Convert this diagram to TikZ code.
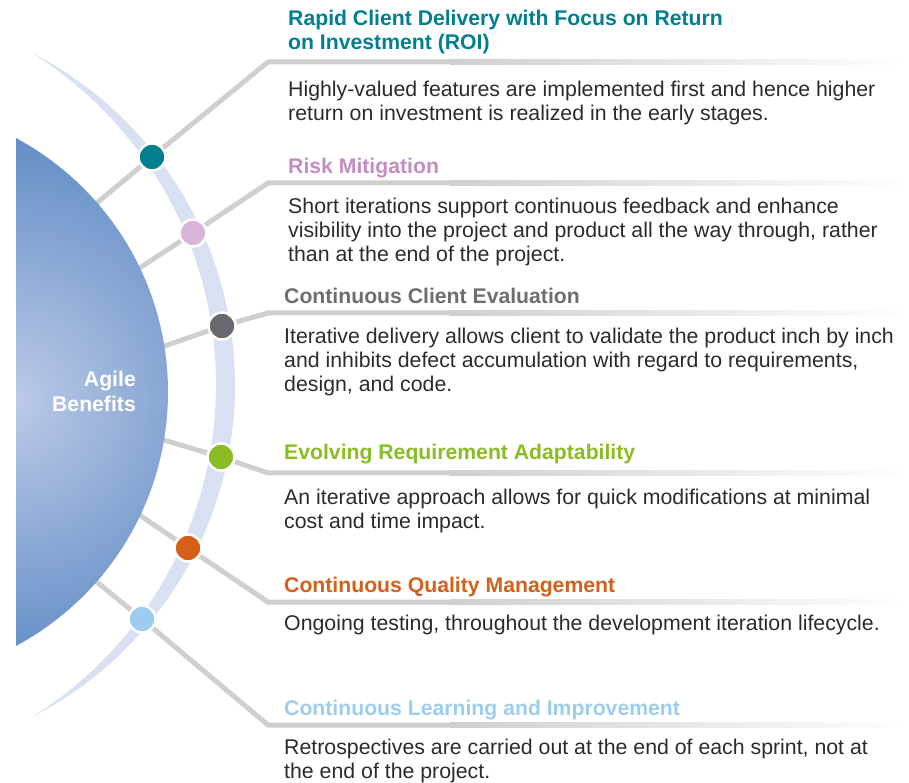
\documentclass[tikz,border=0pt]{standalone}
\usepackage{fontspec}
\setmainfont{Liberation Sans}
\usetikzlibrary{calc}
\definecolor{cteal}{HTML}{00808F}
\definecolor{cpinkh}{HTML}{C48DC1}
\definecolor{cpinkd}{HTML}{D8B6D8}
\definecolor{cgrayh}{HTML}{6D6E72}
\definecolor{cgrayd}{HTML}{68686E}
\definecolor{cgreen}{HTML}{8ABC25}
\definecolor{corange}{HTML}{D4601A}
\definecolor{clblue}{HTML}{9ECCEF}
\definecolor{ringc}{HTML}{D9E0F1}
\definecolor{lineg}{HTML}{CFCFCF}
\definecolor{diskin}{HTML}{BCCAE8}
\definecolor{diskout}{HTML}{5C89C3}
\definecolor{bodyc}{HTML}{2B2B2B}
\begin{document}
\begin{tikzpicture}[x=1pt,y=1pt,
  spoke/.style={draw=lineg, line width=5pt, line join=miter},
  fadebar/.style={left color=lineg, right color=white},
  dotn/.style={circle, minimum size=27pt, inner sep=0pt, draw=white, line width=2.5pt},
  head/.style={anchor=base west, inner sep=0pt, align=left, font=\fontsize{21.2}{24}\selectfont\bfseries},
  body/.style={anchor=base west, inner sep=0pt, align=left, text=bodyc, font=\fontsize{21.3}{24}\selectfont}]
\useasboundingbox (0,0) rectangle (909,782);
% ring band
\begin{scope}
  \clip (32,0) rectangle (909,782);
  \fill[ringc, even odd rule] (-138,397) circle (373) (-175.5,397) circle (391.5);
\end{scope}
% coordinates
\coordinate (s1) at (92,575);  \coordinate (e1) at (268,720); \coordinate (m1) at (450,720); \coordinate (r1) at (909,720);
\coordinate (s2) at (135,511); \coordinate (e2) at (268,599); \coordinate (m2) at (450,599); \coordinate (r2) at (909,599);
\coordinate (s3) at (159,434); \coordinate (e3) at (268,469); \coordinate (m3) at (450,469); \coordinate (r3) at (909,469);
\coordinate (s4) at (157,344); \coordinate (e4) at (268,309); \coordinate (m4) at (450,309); \coordinate (r4) at (909,309);
\coordinate (s5) at (135,270); \coordinate (e5) at (268,180); \coordinate (m5) at (450,180); \coordinate (r5) at (909,180);
\coordinate (s6) at (92,204);  \coordinate (e6) at (268,57);  \coordinate (m6) at (450,57);  \coordinate (r6) at (909,57);
\coordinate (d1) at (152,625);
\coordinate (d2) at (193,549);
\coordinate (d3) at (222,456);
\coordinate (d4) at (221,325);
\coordinate (d5) at (188,234);
\coordinate (d6) at (142,163);
% spokes
\foreach \i in {1,...,6}{
  \draw[spoke] (s\i) -- (d\i) -- (e\i) -- (m\i);
  \shade[fadebar] ($(m\i)+(0,-2.5)$) rectangle ($(r\i)+(0,2.5)$);
}
% disk
\coordinate (disk) at (-120,390);
\begin{scope}
  \clip (16,0) rectangle (909,782);
  \clip (disk) circle (288);
  \shade[inner color=diskin, outer color=diskout] (12,382) circle (285);
\end{scope}
\node[anchor=base east, inner sep=0pt, align=right, text=white, font=\fontsize{21.2}{25}\selectfont\bfseries] (agile) at (136,370) {Agile\\Benefits};
% dots
\node[dotn, fill=cteal]  (n1) at (d1) {};
\node[dotn, fill=cpinkd] (n2) at (d2) {};
\node[dotn, fill=cgrayd] (n3) at (d3) {};
\node[dotn, fill=cgreen] (n4) at (d4) {};
\node[dotn, fill=corange](n5) at (d5) {};
\node[dotn, fill=clblue] (n6) at (d6) {};
% texts (base anchor = baseline of last line)
\node[head, text=cteal] (h1) at (288,732) {Rapid Client Delivery with Focus on Return\\on Investment (ROI)};
\node[body] (b1) at (288,661) {Highly-valued features are implemented first and hence higher\\return on investment is realized in the early stages.};
\node[head, text=cpinkh] (h2) at (288,608) {Risk Mitigation};
\node[body] (b2) at (288,520) {Short iterations support continuous feedback and enhance\\visibility into the project and product all the way through, rather\\than at the end of the project.};
\node[head, text=cgrayh] (h3) at (284,478) {Continuous Client Evaluation};
\node[body] (b3) at (284,390) {Iterative delivery allows client to validate the product inch by inch\\and inhibits defect accumulation with regard to requirements,\\design, and code.};
\node[head, text=cgreen] (h4) at (284,322) {Evolving Requirement Adaptability};
\node[body] (b4) at (284,254) {An iterative approach allows for quick modifications at minimal\\cost and time impact.};
\node[head, text=corange] (h5) at (284,190) {Continuous Quality Management};
\node[body] (b5) at (284,152) {Ongoing testing, throughout the development iteration lifecycle.};
\node[head, text=clblue] (h6) at (284,67) {Continuous Learning and Improvement};
\node[body] (b6) at (284,4) {Retrospectives are carried out at the end of each sprint, not at\\the end of the project.};
\end{tikzpicture}
\end{document}
